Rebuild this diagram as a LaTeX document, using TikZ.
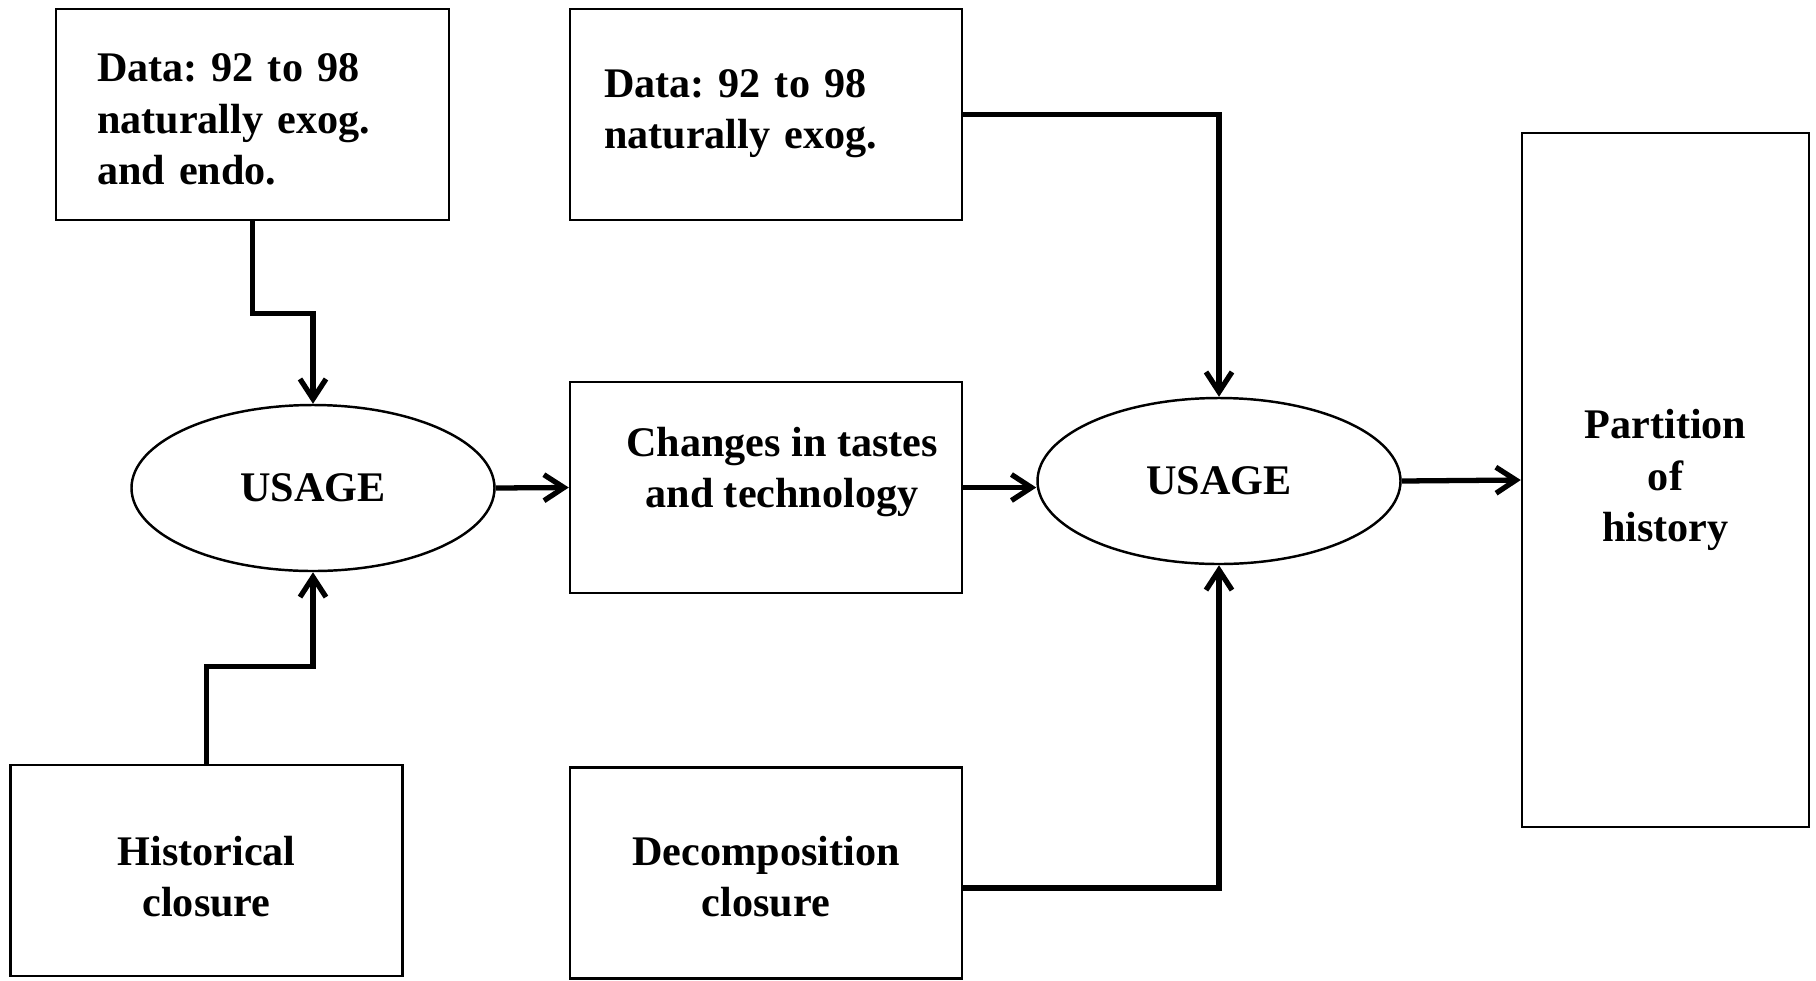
\documentclass[tikz,border=0pt]{standalone}
\usepackage{fontspec}
\setmainfont{Liberation Serif}
\frenchspacing
\usetikzlibrary{arrows.meta,shapes.geometric,calc}

\tikzset{
    box/.style={draw, line width=0.7pt, inner sep=0pt, minimum width=3.92cm,
        minimum height=2.11cm, font=\bfseries\fontsize{12}{14.6}\selectfont},
    usage/.style={draw, ellipse, line width=0.7pt, inner sep=0pt, minimum width=3.63cm,
        minimum height=1.66cm, font=\bfseries\fontsize{12}{14.6}\selectfont},
    flow/.style={->, line width=1.5pt},
    >={Straight Barb[length=2mm,width=2.6mm]}
}

\begin{document}
\begin{tikzpicture}
\useasboundingbox (0,0) rectangle (18.16,9.80);

% input boxes
\node[box, text width=3.11cm, inner xsep=0.41cm, align=left, text height=0.38cm] (dataA) at (2.525,8.655)
    {Data: 92 to 98\\naturally exog.\\and endo.};
\node[box, text width=3.24cm, inner xsep=0.34cm, align=left, text depth=0.62cm] (dataB) at (7.66,8.655)
    {Data: 92 to 98\\naturally exog.};
\node[box, align=center, text depth=0.4cm] (change) at (7.66,4.925)
    {\hspace*{0.32cm}Changes in tastes\\\hspace*{0.32cm}and technology};
\node[box, align=center, text height=0.93cm] (hist) at (2.065,1.095) {Historical\\closure};
\node[box, align=center, text height=0.88cm] (decomp) at (7.66,1.07) {Decomposition\\closure};

% usage
\node[usage] (usageA) at (3.13,4.92) {USAGE};
\node[usage] (usageB) at (12.19,4.99) {USAGE};

% output
\node[box, minimum width=2.87cm, minimum height=6.94cm, align=center] (part) at (16.655,5.0)
    {Partition\\of\\history};

% connectors
\draw[flow] (dataA.south) -- ++(0,-0.92) -| (usageA.north);
\draw[flow] (hist.north) -- ++(0,0.97) -| (usageA.south);
\draw[flow] (usageA.east) -- (change.west);
\draw[flow] (change.east) -- (change.east -| usageB.west);
\draw[flow] (dataB.east) -| (usageB.north);
\draw[flow] ([yshift=-0.15cm]decomp.east) -| (usageB.south);
\draw[flow] (usageB.east) -- (part.west);

\end{tikzpicture}
\end{document}
